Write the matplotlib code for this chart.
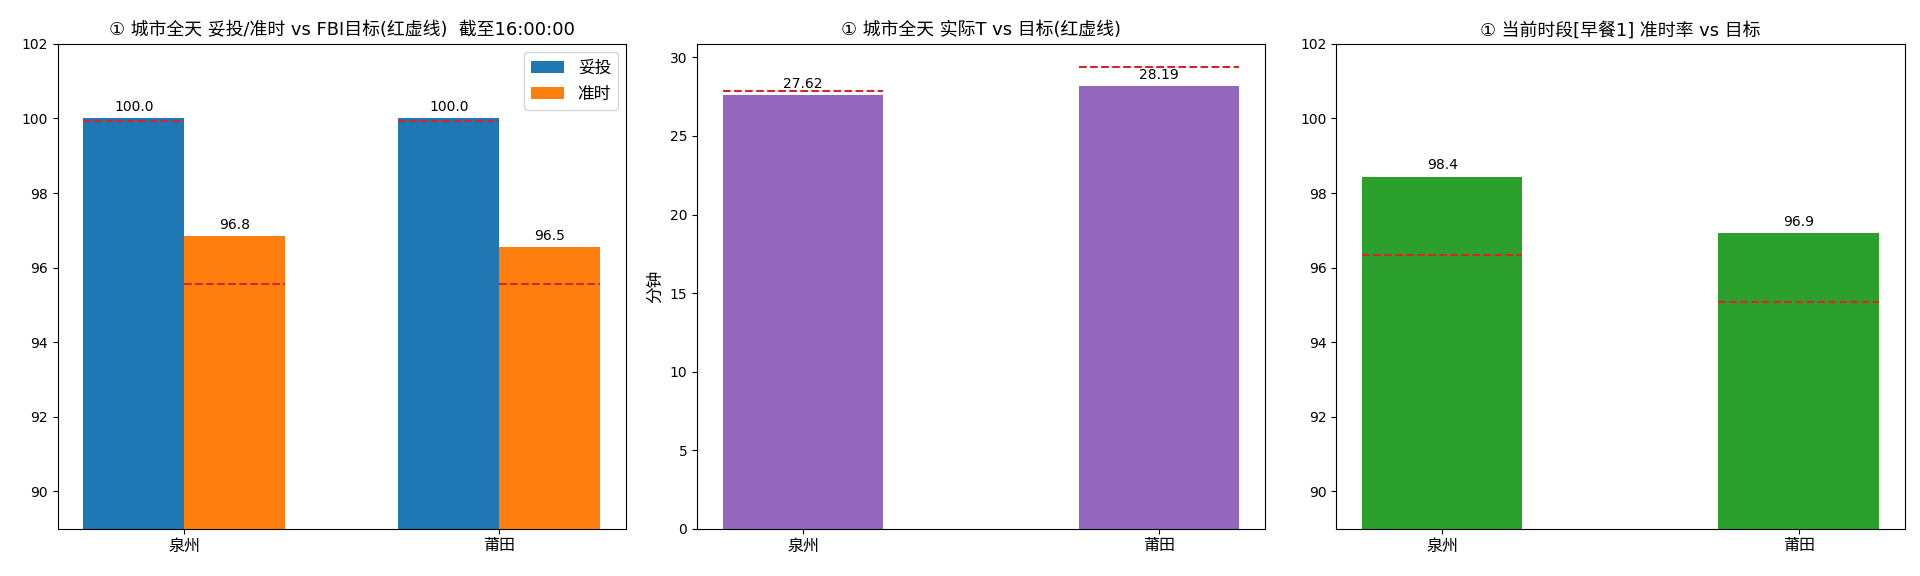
import matplotlib
matplotlib.use("Agg")
import matplotlib.pyplot as plt
import numpy as np

plt.rcParams['font.family'] = ['DejaVu Sans', 'Noto Sans CJK SC']
plt.rcParams['axes.unicode_minus'] = False

cities = ['泉州', '莆田']
tuotou = [100.0, 100.0]
zhunshi = [96.84, 96.54]
tuotou_target = [99.94, 99.94]
zhunshi_target = [95.55, 95.55]

actual_t = [27.62, 28.19]
t_target = [27.85, 29.4]

period_rate = [98.44, 96.93]
period_target = [96.33, 95.07]

title1 = '① 城市全天 妥投/准时 vs FBI目标(红虚线)  截至16:00:00'
title2 = '① 城市全天 实际T vs 目标(红虚线)'
title3 = '① 当前时段[早餐1] 准时率 vs 目标'

fig, axes = plt.subplots(1, 3, figsize=(19.2, 5.76), dpi=100)
fig.subplots_adjust(left=0.030, right=0.992, top=0.924, bottom=0.082, wspace=0.125)

x = np.arange(len(cities))
red = '#d62728'
title_fs = 12.9
cjk_fs = 11.5

# Panel 1
ax = axes[0]
w = 0.32
b1 = ax.bar(x - w / 2, tuotou, w, color='#1f77b4', label='妥投')
b2 = ax.bar(x + w / 2, zhunshi, w, color='#ff7f0e', label='准时')
for i in range(len(cities)):
    ax.hlines(tuotou_target[i], x[i] - w, x[i], colors=red, linestyles='--', linewidth=1.5)
    ax.hlines(zhunshi_target[i], x[i], x[i] + w, colors=red, linestyles='--', linewidth=1.5)
ax.bar_label(b1, fmt='%.1f', padding=3)
ax.bar_label(b2, fmt='%.1f', padding=3)
ax.set_ylim(89, 102)
ax.set_xticks(x)
ax.set_xticklabels(cities, fontsize=cjk_fs)
ax.set_title(title1, fontsize=title_fs)
ax.legend(loc='upper right', fontsize=12)

# Panel 2
ax = axes[1]
w2 = 0.45
b = ax.bar(x, actual_t, w2, color='#9467bd')
for i in range(len(cities)):
    ax.hlines(t_target[i], x[i] - w2 / 2, x[i] + w2 / 2, colors=red, linestyles='--', linewidth=1.5)
ax.bar_label(b, fmt='%.2f', padding=3)
ax.set_xticks(x)
ax.set_xticklabels(cities, fontsize=cjk_fs)
ax.set_ylabel('分钟', fontsize=12)
ax.set_title(title2, fontsize=title_fs)

# Panel 3
ax = axes[2]
b = ax.bar(x, period_rate, w2, color='#2ca02c')
for i in range(len(cities)):
    ax.hlines(period_target[i], x[i] - w2 / 2, x[i] + w2 / 2, colors=red, linestyles='--', linewidth=1.5)
ax.bar_label(b, fmt='%.1f', padding=3)
ax.set_ylim(89, 102)
ax.set_xticks(x)
ax.set_xticklabels(cities, fontsize=cjk_fs)
ax.set_title(title3, fontsize=title_fs)

fig.savefig('out.png', dpi=100)
